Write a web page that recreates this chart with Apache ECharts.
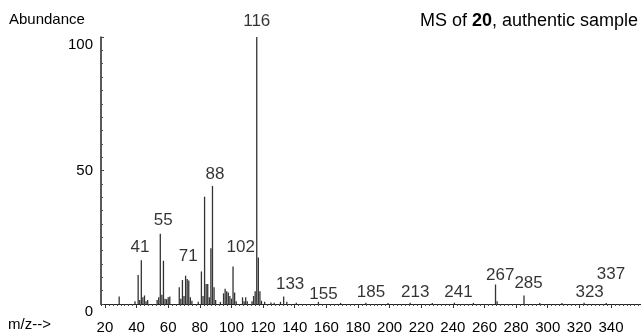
<!DOCTYPE html>
<html>
<head>
<meta charset="utf-8">
<script src="https://cdn.jsdelivr.net/npm/echarts@6/dist/echarts.min.js"></script>
<style>
html,body{margin:0;padding:0;background:#fff;}
#chart{width:641px;height:335px;}
</style>
</head>
<body>
<div id="chart"></div>
<script>
// m/z values of the peaks
var mz = [29, 39, 41, 42, 43, 44, 45, 46, 47, 53, 54, 55, 56, 57, 58, 59, 60, 61,
  67, 68, 69, 70, 71, 72, 73, 74, 75, 79, 81, 82, 83, 84, 85, 86, 87, 88, 89, 90,
  93, 95, 96, 97, 98, 99, 100, 101, 102, 103, 107, 108, 109, 110, 113, 114, 115,
  116, 117, 118, 119, 121, 125, 127, 131, 133, 135, 141, 155, 169, 185, 199, 213,
  227, 241, 253, 267, 268, 285, 295, 309, 323, 337];
// relative abundance (%)
var abundance = [2.8, 1.0, 10.9, 1.5, 16.4, 2.5, 3.2, 1.0, 1.5, 1.5, 2.5, 26.3, 3.5, 16.2, 2.0, 1.8, 2.5, 2.8,
  6.3, 2.0, 9.0, 3.0, 10.6, 9.4, 8.8, 2.5, 1.2, 0.8, 12.2, 3.0, 40.2, 7.5, 7.5, 2.5, 20.9, 44.2, 6.3, 1.5,
  0.8, 4.0, 5.7, 4.8, 4.3, 3.0, 2.0, 14.0, 4.3, 1.0, 2.5, 1.0, 2.5, 1.0, 1.0, 3.0, 4.8,
  100, 17.4, 4.8, 1.2, 0.8, 0.6, 0.5, 0.8, 2.8, 0.8, 0.5, 0.8, 0.4, 0.5, 0.4, 0.5,
  0.4, 0.5, 0.4, 7.3, 1.0, 3.2, 0.4, 0.4, 0.5, 0.4];
// peak annotations: text and where it sits (data coordinates)
var labelText = ['41', '55', '71', '88', '102', '116', '133', '155', '185', '213', '241', '267', '285', '323', '337'];
var labelX = [42.1, 56.9, 72.7, 89.6, 105.9, 116, 137.1, 158.2, 188.2, 216.2, 243.6, 270, 287.9, 326.5, 340];
var labelY = [21.4, 31.2, 18.0, 48.5, 21.4, 105.7, 7.5, 3.8, 4.2, 4.2, 4.2, 10.6, 7.8, 4.2, 11.0];
// axis tick labels
var xTicks = [20, 40, 60, 80, 100, 120, 140, 160, 180, 200, 220, 240, 260, 280, 300, 320, 340];
var yTicks = [0, 50, 100];

var FONT = '"Liberation Sans", Arial, sans-serif';
var chart = echarts.init(document.getElementById('chart'), null, {renderer: 'canvas'});

var barData = mz.map(function (m, i) { return [m, abundance[i]]; });
var lblData = labelText.map(function (t, i) { return [labelX[i], labelY[i], t]; });

chart.setOption({
  animation: false,
  backgroundColor: '#fff',
  grid: {left: 101, right: 0, top: 37, bottom: 28, containLabel: false},
  xAxis: [{
    type: 'value', min: 17.5, max: 359, interval: 2.5,
    axisLine: {show: true, lineStyle: {color: '#222', width: 1}},
    axisTick: {show: true, length: 2, lineStyle: {color: '#444'}},
    axisLabel: {show: false},
    splitLine: {show: false}
  }, {
    type: 'value', min: 17.5, max: 359, position: 'bottom',
    axisLine: {show: false},
    axisTick: {show: true, length: 4, customValues: xTicks, lineStyle: {color: '#333'}},
    axisLabel: {show: true, customValues: xTicks, margin: 16, fontSize: 15, color: '#000', fontFamily: FONT},
    splitLine: {show: false}
  }],
  yAxis: {
    type: 'value', min: 0, max: 100, interval: 50,
    axisLine: {show: true, lineStyle: {color: '#222', width: 1.5}},
    axisTick: {show: true, inside: true, length: 3, lineStyle: {color: '#444'}},
    minorTick: {show: true, splitNumber: 10, length: 2, lineStyle: {color: '#555'}},
    axisLabel: {
      show: true, margin: 8, fontSize: 15, color: '#000', fontFamily: FONT,
      formatter: function (v) { return (v === 0 || v === 100) ? '{d|' + v + '}' : '' + v; },
      rich: {d: {fontSize: 15, color: '#000', fontFamily: FONT, padding: [16, 0, 0, 0]}}
    },
    splitLine: {show: false}
  },
  series: [{
    type: 'bar',
    xAxisIndex: 0,
    data: barData,
    barWidth: 1.3,
    itemStyle: {color: '#333'},
    large: false
  }, {
    type: 'scatter',
    xAxisIndex: 0,
    data: lblData,
    symbolSize: 1,
    clip: false,
    itemStyle: {color: 'rgba(0,0,0,0)'},
    label: {
      show: true, position: 'inside', fontSize: 17, color: '#000', fontFamily: FONT,
      formatter: function (p) { return p.value[2]; }
    }
  }],
  graphic: [{
    type: 'text', left: 9, top: 12,
    style: {text: 'Abundance', fontSize: 15, fill: '#000', fontFamily: FONT}
  }, {
    type: 'text', left: 8, top: 317,
    style: {text: 'm/z-->', fontSize: 15, fill: '#000', fontFamily: FONT}
  }, {
    type: 'text', right: 3, top: 12,
    style: {
      text: '{n|MS of }{b|20}{n|, authentic sample}',
      rich: {
        n: {fontSize: 18, fill: '#000', fontFamily: FONT},
        b: {fontSize: 18, fill: '#000', fontFamily: FONT, fontWeight: 'bold'}
      }
    }
  }]
});
</script>
</body>
</html>
